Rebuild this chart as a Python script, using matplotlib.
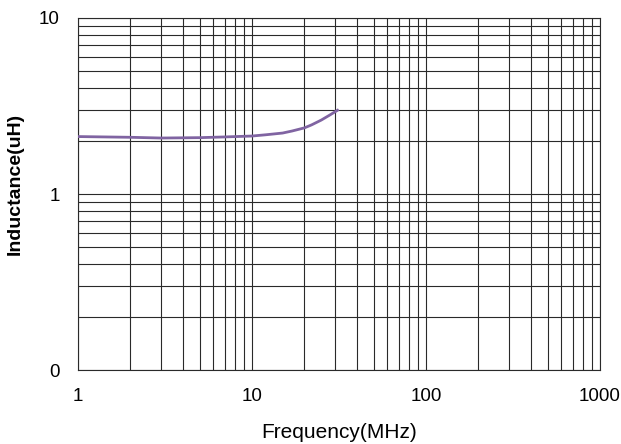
import matplotlib
matplotlib.use("Agg")
import matplotlib.pyplot as plt
import numpy as np
from matplotlib.ticker import FixedLocator, NullFormatter, LogLocator

freq = [1, 2, 3, 5, 7, 10, 12, 15, 17, 20, 22, 25, 28, 31]
induct = [2.12, 2.10, 2.08, 2.09, 2.11, 2.135, 2.17, 2.22, 2.28, 2.375, 2.47, 2.63, 2.81, 2.99]

xticks = [1, 10, 100, 1000]
xlabels = ['1', '10', '100', '1000']
yticks = [0.1, 1, 10]
ylabels = ['0', '1', '10']

sans = ['Liberation Sans', 'DejaVu Sans']

fig = plt.figure(figsize=(6.21, 4.44), dpi=100)
ax = fig.add_axes([78/621, 74/444, 522/621, 352/444])

ax.plot(freq, induct, color='#8064A2', lw=2, zorder=3)

ax.set_xscale('log')
ax.set_yscale('log')
ax.set_xlim(1, 1000)
ax.set_ylim(0.1, 10)

ax.xaxis.set_major_locator(FixedLocator(xticks))
ax.yaxis.set_major_locator(FixedLocator(yticks))
ax.xaxis.set_minor_locator(LogLocator(base=10, subs=np.arange(2, 10)))
ax.yaxis.set_minor_locator(LogLocator(base=10, subs=np.arange(2, 10)))
ax.xaxis.set_minor_formatter(NullFormatter())
ax.yaxis.set_minor_formatter(NullFormatter())
ax.set_xticklabels(xlabels, family=sans, fontsize=13.5)
ax.set_yticklabels(ylabels, family=sans, fontsize=13.5)

ax.tick_params(which='both', length=0)
ax.tick_params(axis='x', pad=13)
ax.tick_params(axis='y', pad=13)

ax.grid(which='both', color='#2a2a2a', lw=0.8)
for s in ax.spines.values():
    s.set_color('#2a2a2a')
    s.set_linewidth(0.8)

ax.set_xlabel('Frequency(MHz)', family=sans, fontsize=15, labelpad=13)
ax.set_ylabel('Inductance(uH)', family=sans, fontsize=14, fontweight='bold')
ax.yaxis.set_label_coords(-0.104, 0.528)

fig.savefig('out.png', dpi=100)
